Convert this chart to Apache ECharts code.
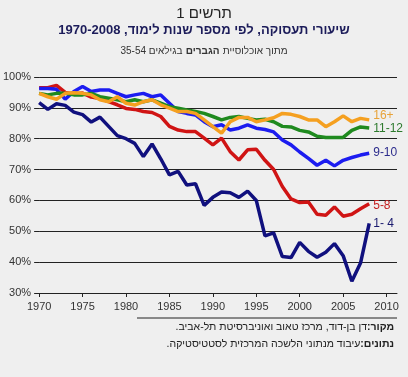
<!DOCTYPE html>
<html>
<head>
<meta charset="utf-8">
<script src="https://cdn.jsdelivr.net/npm/echarts@6/dist/echarts.min.js"></script>
<style>
  html, body { margin: 0; padding: 0; background: #efefef; }
  #mainChart { width: 408px; height: 377px; }
</style>
</head>
<body>
<div id="mainChart"></div>
<script>
// שיעורי תעסוקה לפי שנות לימוד
var years = [1970, 1971, 1972, 1973, 1974, 1975, 1976, 1977, 1978, 1979,
    1980, 1981, 1982, 1983, 1984, 1985, 1986, 1987, 1988, 1989,
    1990, 1991, 1992, 1993, 1994, 1995, 1996, 1997, 1998, 1999,
    2000, 2001, 2002, 2003, 2004, 2005, 2006, 2007, 2008];

var grp1_4 = [91.7, 89.5, 91.3, 90.8, 88.6, 87.8, 85.4, 87, 84, 81,
    80, 78.5, 74.2, 78.3, 73.5, 68.3, 69.4, 65, 65.4, 58.4,
    61, 62.7, 62.5, 61, 63, 60, 48.5, 49.5, 41.8, 41.5,
    46.4, 43.5, 41.6, 43.2, 46, 42.1, 33.8, 39.7, 52.6];
var grp5_8 = [96.5, 96.5, 97.3, 95, 94.5, 94.8, 93.5, 93, 92, 91,
    89.8, 89.5, 88.8, 88.5, 87.2, 84, 82.8, 82.3, 82.3, 80.2,
    78, 80.2, 75.8, 73.1, 76.4, 76.6, 73, 70, 64.5, 60.5,
    59.3, 59.5, 55.5, 55.2, 57.9, 54.9, 55.5, 57.3, 58.9];
var grp9_10 = [96.3, 96.3, 96, 92.8, 95.3, 96.9, 95.3, 95.8, 95.8, 94.7,
    93.6, 94.2, 94.7, 93.6, 94.2, 91.5, 88.8, 88.2, 87.7, 85.5,
    83.9, 84.5, 82.8, 83.4, 84.5, 83.4, 83, 82.2, 79.6, 78,
    75.7, 73.6, 71.4, 73, 71.2, 73, 73.9, 74.7, 75.3];
var grp11_12 = [94.7, 94.2, 94.7, 94.7, 94.2, 94.2, 94.7, 93.6, 93.1, 92.6,
    92, 92.6, 92, 92.6, 91.5, 90.4, 89.9, 89.3, 88.8, 88.2,
    87.2, 86.1, 86.9, 87.2, 86.6, 86.1, 86.3, 85.5, 84, 83.8,
    82.7, 82.2, 80.8, 80.4, 80.4, 80.4, 82.7, 83.8, 83.5];
var grp16 = [94.7, 93.6, 92.8, 94.7, 94.9, 94.7, 94.2, 92.6, 92, 93.6,
    91.5, 90.9, 92, 92.6, 91, 89.9, 88.8, 88.8, 88.2, 86.1,
    83.9, 81.8, 85.5, 86.9, 86.9, 85.5, 86.1, 86.8, 88.2, 87.9,
    87.2, 86.1, 86.1, 83.9, 85.5, 87.4, 85.5, 86.6, 86.1];

var RLE = '\u202B', PDF = '\u202C';
function rtl(s) { return RLE + s + PDF; }

function pairs(vals) {
    var out = [];
    for (var i = 0; i < years.length; i++) out.push([years[i], vals[i]]);
    return out;
}

function lineSeries(name, vals, color, labelColor, offset) {
    return {
        name: name,
        type: 'line',
        data: pairs(vals),
        symbol: 'none',
        lineStyle: { color: color, width: 3.5 },
        itemStyle: { color: color },
        endLabel: {
            show: true,
            formatter: name,
            color: labelColor,
            fontFamily: 'Arial',
            fontSize: 12,
            distance: 4,
            offset: offset
        },
        z: 3
    };
}

var myChart = echarts.init(document.getElementById('mainChart'));

myChart.setOption({
    backgroundColor: '#efefef',
    animation: false,
    grid: { left: 35, right: 11, top: 77, bottom: 84 },
    xAxis: {
        type: 'value',
        min: 1970,
        max: 2011.2,
        interval: 5,
        axisLine: { show: true, lineStyle: { color: '#222', width: 1 } },
        axisTick: { show: true, length: 4, lineStyle: { color: '#222' } },
        axisLabel: {
            color: '#333', fontFamily: 'Arial', fontSize: 11, margin: 8,
            showMaxLabel: false,
            formatter: function(v) { return v % 5 === 0 ? String(v) : ''; }
        },
        splitLine: { show: false }
    },
    yAxis: {
        type: 'value',
        min: 30,
        max: 100,
        interval: 10,
        axisLine: { show: false },
        axisTick: { show: true, length: 5, lineStyle: { color: '#222' } },
        axisLabel: {
            color: '#333', fontFamily: 'Arial', fontSize: 11, margin: 8,
            formatter: '{value}%'
        },
        splitLine: { show: true, lineStyle: { color: '#222', width: 1 } }
    },
    series: [
        lineSeries('1- 4', grp1_4, '#10107e', '#1a1a6e', [0, 0]),
        lineSeries('5-8', grp5_8, '#d01414', '#c42020', [0, 2]),
        lineSeries('9-10', grp9_10, '#1c1cf0', '#2b2b8c', [0, -1]),
        lineSeries('11-12', grp11_12, '#1f8a1f', '#2d7a2d', [0, 1]),
        lineSeries('16+', grp16, '#f5a020', '#e8a33a', [0, -4])
    ],
    graphic: [
        {
            type: 'text', left: 'center', top: 6,
            style: { text: rtl('תרשים 1'), fontFamily: 'Arial', fontSize: 15, fill: '#222' }
        },
        {
            type: 'text', left: 'center', top: 24,
            style: {
                text: rtl('שיעורי תעסוקה, לפי מספר שנות לימוד, 1970-2008'),
                fontFamily: 'Arial', fontWeight: 'bold', fontSize: 13, fill: '#1c1c5a'
            }
        },
        {
            type: 'text', left: 'center', top: 45,
            style: {
                text: '{r|' + rtl('בגילאים 35-54') + '} {b|' + rtl('הגברים') + '} {r|' + rtl('מתוך אוכלוסיית') + '}',
                rich: {
                    r: { fontFamily: 'Arial', fontSize: 10, fill: '#333' },
                    b: { fontFamily: 'Arial', fontSize: 10, fontWeight: 'bold', fill: '#333' }
                }
            }
        },
        {
            type: 'line',
            shape: { x1: 137, y1: 318, x2: 397, y2: 318 },
            style: { stroke: '#222', lineWidth: 1 }
        },
        {
            type: 'text', right: 11, top: 322,
            style: {
                text: '{r|' + rtl('דן בן-דוד, מרכז טאוב ואוניברסיטת תל-אביב.') + '}{b|' + rtl('מקור: ') + '}',
                rich: {
                    r: { fontFamily: 'Arial', fontSize: 10.5, fill: '#222' },
                    b: { fontFamily: 'Arial', fontSize: 10.5, fontWeight: 'bold', fill: '#222' }
                }
            }
        },
        {
            type: 'text', right: 11, top: 339,
            style: {
                text: '{r|' + rtl('עיבוד מנתוני הלשכה המרכזית לסטטיסטיקה.') + '}{b|' + rtl('נתונים: ') + '}',
                rich: {
                    r: { fontFamily: 'Arial', fontSize: 10.5, fill: '#222' },
                    b: { fontFamily: 'Arial', fontSize: 10.5, fontWeight: 'bold', fill: '#222' }
                }
            }
        }
    ]
});
</script>
</body>
</html>
